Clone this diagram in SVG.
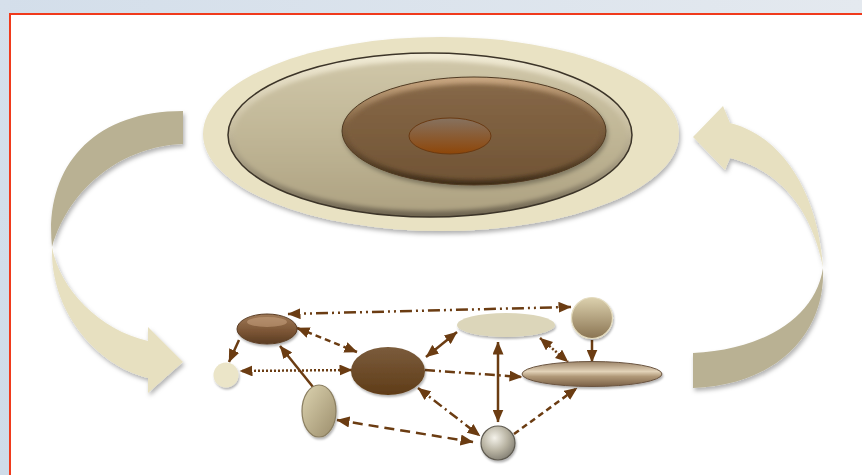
<svg xmlns="http://www.w3.org/2000/svg" width="862" height="475" viewBox="0 0 862 475">
<defs>
  <linearGradient id="bgTop" x1="0" y1="0" x2="1" y2="0">
    <stop offset="0" stop-color="#d3deea"/>
    <stop offset="1" stop-color="#e4e9ef"/>
  </linearGradient>
  <linearGradient id="bgLeft" x1="0" y1="0" x2="0" y2="1">
    <stop offset="0" stop-color="#d6e0eb"/>
    <stop offset="1" stop-color="#cfdbe8"/>
  </linearGradient>
  <filter id="sh" x="-20%" y="-20%" width="140%" height="150%">
    <feDropShadow dx="1.5" dy="3" stdDeviation="2" flood-color="#000" flood-opacity="0.3"/>
  </filter>
  <filter id="shs" x="-30%" y="-30%" width="160%" height="170%">
    <feDropShadow dx="1" dy="2" stdDeviation="1.2" flood-color="#000" flood-opacity="0.3"/>
  </filter>
  <filter id="blur2" x="-10%" y="-10%" width="120%" height="120%"><feGaussianBlur stdDeviation="2"/></filter>
  <linearGradient id="gRingBevel" x1="0" y1="0" x2="0" y2="1">
    <stop offset="0" stop-color="#f2ecd6"/>
    <stop offset="0.45" stop-color="#c8bea0"/>
    <stop offset="1" stop-color="#6e6450"/>
  </linearGradient>
  <linearGradient id="gRing" x1="0" y1="0" x2="0" y2="1">
    <stop offset="0" stop-color="#cfc6a8"/>
    <stop offset="0.5" stop-color="#c0b696"/>
    <stop offset="1" stop-color="#aea282"/>
  </linearGradient>
  <linearGradient id="gBrownBevel" x1="0" y1="0" x2="0" y2="1">
    <stop offset="0" stop-color="#caa882"/>
    <stop offset="0.45" stop-color="#7e6040"/>
    <stop offset="1" stop-color="#3e2c18"/>
  </linearGradient>
  <linearGradient id="gBrown" x1="0" y1="0" x2="0" y2="1">
    <stop offset="0" stop-color="#866848"/>
    <stop offset="0.5" stop-color="#7c5e3e"/>
    <stop offset="1" stop-color="#715536"/>
  </linearGradient>
  <linearGradient id="gCore" x1="0" y1="0" x2="0" y2="1">
    <stop offset="0" stop-color="#867260"/>
    <stop offset="1" stop-color="#8e4608"/>
  </linearGradient>
  <linearGradient id="gA" x1="0" y1="0" x2="0" y2="1">
    <stop offset="0" stop-color="#a07a58"/>
    <stop offset="0.6" stop-color="#7a5434"/>
    <stop offset="1" stop-color="#5a3c22"/>
  </linearGradient>
  <linearGradient id="gC" x1="0" y1="0" x2="0" y2="1">
    <stop offset="0" stop-color="#7b5c3c"/>
    <stop offset="1" stop-color="#5f3c18"/>
  </linearGradient>
  <linearGradient id="gD" x1="0" y1="0" x2="1" y2="1">
    <stop offset="0" stop-color="#dcd3b0"/>
    <stop offset="1" stop-color="#9c8e6c"/>
  </linearGradient>
  <linearGradient id="gF" x1="0" y1="0" x2="0" y2="1">
    <stop offset="0" stop-color="#dcd1ae"/>
    <stop offset="1" stop-color="#8a7452"/>
  </linearGradient>
  <linearGradient id="gG" x1="0" y1="0" x2="0" y2="1">
    <stop offset="0" stop-color="#9c8468"/>
    <stop offset="0.4" stop-color="#e2d2b8"/>
    <stop offset="0.6" stop-color="#b09878"/>
    <stop offset="1" stop-color="#7a6046"/>
  </linearGradient>
  <radialGradient id="gH" cx="0.4" cy="0.35" r="0.65">
    <stop offset="0" stop-color="#f4f2ea"/>
    <stop offset="0.6" stop-color="#b8b3a2"/>
    <stop offset="1" stop-color="#8a867a"/>
  </radialGradient>
  <marker id="ah" viewBox="0 0 13 11" refX="12.5" refY="5.5" markerWidth="13" markerHeight="11" markerUnits="userSpaceOnUse" orient="auto-start-reverse">
    <path d="M0,0 L13,5.5 L0,11 Z" fill="#6b3c12"/>
  </marker>
  <style>
    .ln{stroke:#6b3c12;stroke-width:2.5;fill:none;marker-end:url(#ah)}
    .bi{marker-start:url(#ah)}
    .ddd{stroke-dasharray:12 4 2 4 2 4}
    .dsh{stroke-dasharray:6 4}
    .dot{stroke-dasharray:2 2}
    .lng{stroke-dasharray:10 6}
    .dd{stroke-dasharray:10 4 2 4}
    .light{fill:#e7e0c0}
    .dark{fill:#b9b193}
  </style>
</defs>

<!-- background frame -->
<rect x="0" y="0" width="862" height="475" fill="#ffffff"/>
<rect x="0" y="0" width="862" height="14" fill="url(#bgTop)"/>
<rect x="0" y="0" width="10" height="475" fill="url(#bgLeft)"/>
<path d="M10,475 L10,14 L862,14" fill="none" stroke="#f03a1c" stroke-width="2"/>

<!-- big concentric ellipses -->
<g id="outer-ring" filter="url(#sh)">
  <ellipse cx="441" cy="134" rx="238" ry="97" fill="#e9e2c3"/>
</g>
<g id="middle-ring">
  <ellipse cx="430" cy="135" rx="202" ry="82" fill="url(#gRingBevel)" stroke="#3c3428" stroke-width="1.5"/>
  <ellipse cx="430" cy="136" rx="196" ry="75" fill="url(#gRing)" filter="url(#blur2)"/>
</g>
<g id="brown-ring" filter="url(#sh)">
  <ellipse cx="474" cy="131" rx="132" ry="54" fill="url(#gBrownBevel)" stroke="#4f3a22" stroke-width="1"/>
  <ellipse cx="474" cy="132" rx="127" ry="48" fill="url(#gBrown)" filter="url(#blur2)"/>
</g>
<g id="core">
  <ellipse cx="450" cy="136" rx="41" ry="18" fill="url(#gCore)" stroke="#6a3a12" stroke-width="1"/>
</g>

<!-- curved arrows -->
<g id="left-arrow" filter="url(#sh)">
  <path class="dark" d="M183,111 L183,144 C125,146 70,185 52,247 C44,170 90,111 183,111 Z"/>
  <path class="light" d="M52,247 C50,310 95,365 148,378 L148,393 L183,362 L148,327 L148,341 C100,330 60,290 52,247 Z"/>
</g>
<g id="right-arrow" filter="url(#sh)">
  <path class="light" d="M693,137 L723,106 L730,123 C780,135 818,190 823,268 C812,210 780,170 730,158 L725,170 Z"/>
  <path class="dark" d="M823,268 C826,330 780,385 693,388 L693,353 C760,350 815,320 823,268 Z"/>
</g>

<!-- connectors -->
<g id="connectors">
  <line class="ln bi ddd" x1="288" y1="314" x2="571" y2="307"/>
  <line class="ln bi dsh" x1="297" y1="328" x2="357" y2="352"/>
  <line class="ln" x1="239" y1="340" x2="229" y2="362"/>
  <line class="ln bi dot" x1="352" y1="370" x2="240" y2="371"/>
  <line class="ln" x1="313" y1="387" x2="280" y2="346"/>
  <line class="ln bi lng" x1="337" y1="420" x2="473" y2="442"/>
  <line class="ln bi" x1="426" y1="357" x2="457" y2="332"/>
  <line class="ln dd" x1="425" y1="370" x2="522" y2="377"/>
  <line class="ln bi dd" x1="418" y1="388" x2="480" y2="436"/>
  <line class="ln bi" x1="498" y1="342" x2="498" y2="422"/>
  <line class="ln bi dot" x1="540" y1="338" x2="568" y2="362"/>
  <line class="ln" x1="592" y1="340" x2="592" y2="362"/>
  <line class="ln dsh" x1="514" y1="434" x2="577" y2="388"/>
</g>

<!-- nodes -->
<g id="node-a" filter="url(#shs)">
  <ellipse cx="267" cy="329" rx="30" ry="15" fill="url(#gA)" stroke="#5a3c22" stroke-width="1"/>
  <ellipse cx="267" cy="322" rx="20" ry="5" fill="#d4b08c" opacity="0.45"/>
</g>
<g id="node-b" filter="url(#shs)">
  <circle cx="226" cy="375" r="12.5" fill="#ebe5c8"/>
</g>
<g id="node-c" filter="url(#shs)">
  <ellipse cx="388" cy="371" rx="37" ry="24" fill="url(#gC)"/>
</g>
<g id="node-d" filter="url(#shs)">
  <ellipse cx="319" cy="411" rx="17" ry="26" fill="url(#gD)" stroke="#8a7e60" stroke-width="1.2"/>
</g>
<g id="node-e" filter="url(#shs)">
  <ellipse cx="506" cy="325" rx="49" ry="12" fill="#dcd6ba"/>
</g>
<g id="node-f" filter="url(#shs)">
  <circle cx="592" cy="318" r="20.5" fill="url(#gF)" stroke="#e4dcc0" stroke-width="1.2"/>
</g>
<g id="node-g" filter="url(#shs)">
  <ellipse cx="592" cy="374" rx="70" ry="12.5" fill="url(#gG)" stroke="#6a5440" stroke-width="1"/>
</g>
<g id="node-h" filter="url(#shs)">
  <circle cx="498" cy="443" r="17" fill="url(#gH)" stroke="#5e5a50" stroke-width="1.2"/>
</g>
</svg>
